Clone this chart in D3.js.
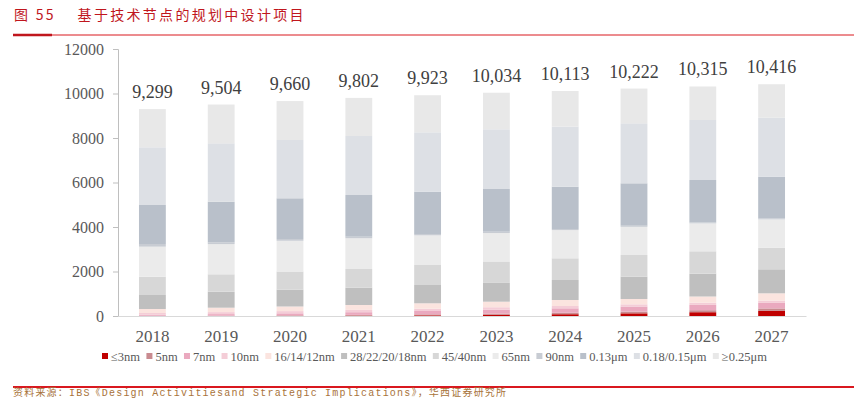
<!DOCTYPE html>
<html lang="zh">
<head>
<meta charset="UTF-8">
<title>基于技术节点的规划中设计项目</title>
<script src="https://d3js.org/d3.v7.min.js"></script>
<style>
  body { margin: 0; background: #fff; }
  svg { display: block; }
</style>
</head>
<body>
<div id="chart"></div>
<script>
// categories (x axis)
const years = ["2018", "2019", "2020", "2021", "2022", "2023", "2024", "2025", "2026", "2027"];

// technology nodes, bottom to top of each stack
const nodes = ["≤3nm", "5nm", "7nm", "10nm", "16/14/12nm", "28/22/20/18nm", "45/40nm",
               "65nm", "90nm", "0.13μm", "0.18/0.15μm", "≥0.25μm"];
const nodeColors = ["#c00000", "#c98b90", "#eaa9bf", "#f4cdd7", "#fbe4df", "#bfbfbf", "#d7d7d7",
                    "#ebebeb", "#c8ccd3", "#b9c0ca", "#dde0e5", "#e8e8e8"];

// design starts per node (one value per year)
const le3nm     = [0, 0, 5, 15, 30, 50, 80, 120, 170, 230];
const n5nm      = [10, 15, 25, 35, 45, 55, 65, 75, 90, 110];
const n7nm      = [45, 70, 90, 120, 150, 180, 200, 230, 240, 250];
const n10nm     = [80, 90, 100, 104, 106, 108, 104, 100, 96, 100];
const n16nm     = [180, 198, 207, 220, 240, 250, 270, 239, 280, 330];
const n28nm     = [629, 719, 755, 778, 822, 863, 899, 1002, 1025, 1079];
const n45nm     = [822, 782, 818, 840, 899, 944, 975, 976, 1007, 971];
const n65nm     = [1350, 1358, 1381, 1382, 1333, 1279, 1267, 1266, 1254, 1272];
const n90nm     = [120, 80, 80, 70, 60, 60, 50, 50, 40, 40];
const u013      = [1753, 1825, 1829, 1874, 1902, 1919, 1901, 1906, 1910, 1879];
const u018      = [2593, 2625, 2620, 2652, 2669, 2683, 2697, 2697, 2697, 2651];
const ge025     = [1717, 1742, 1750, 1712, 1667, 1643, 1605, 1561, 1506, 1504];

const seriesValues = [le3nm, n5nm, n7nm, n10nm, n16nm, n28nm, n45nm, n65nm, n90nm, u013, u018, ge025];
const yTicks = [0, 2000, 4000, 6000, 8000, 10000, 12000];

const W = 854, H = 398;
const svg = d3.select("#chart").append("svg")
    .attr("width", W).attr("height", H);

// title + red rules
svg.append("text")
    .attr("x", 14).attr("y", 20)
    .attr("fill", "#c0161d")
    .style("font-family", "'Noto Sans CJK SC', sans-serif")
    .style("font-size", "14px")
    .style("letter-spacing", "2.3px")
    .text("图 55\u3000 基于技术节点的规划中设计项目");

svg.append("line").attr("x1", 13).attr("x2", W).attr("y1", 35).attr("y2", 35)
    .attr("stroke", "#d9181f").attr("stroke-width", 1);
svg.append("line").attr("x1", 13).attr("x2", 52).attr("y1", 35).attr("y2", 35)
    .attr("stroke", "#c0161d").attr("stroke-width", 2.5);

// build stacked table
const table = years.map((yr, i) => {
    const row = { year: yr };
    nodes.forEach((n, k) => row[n] = seriesValues[k][i]);
    return row;
});
const stacked = d3.stack().keys(nodes)(table);

const x = d3.scaleBand().domain(years).range([118, 806]).paddingInner(0.61).paddingOuter(0.305);
const y = d3.scaleLinear().domain([0, 12000]).range([316, 49]);

// y axis
const yAxis = svg.append("g")
    .attr("transform", "translate(118,0)")
    .call(d3.axisLeft(y).tickValues(yTicks).tickSize(5).tickPadding(9).tickFormat(d3.format("d")));
yAxis.select(".domain").attr("stroke", "#bfbfbf");
yAxis.selectAll(".tick line").attr("stroke", "#bfbfbf");
yAxis.selectAll("text")
    .attr("fill", "#595959")
    .style("font-family", "'Liberation Serif', serif")
    .style("font-size", "16px");

// bars
svg.append("g").selectAll("g")
    .data(stacked)
    .join("g")
    .attr("fill", (d, k) => nodeColors[k])
    .selectAll("rect")
    .data(d => d)
    .join("rect")
    .attr("x", d => x(d.data.year))
    .attr("width", x.bandwidth())
    .attr("y", d => y(d[1]))
    .attr("height", d => y(d[0]) - y(d[1]));

// x axis
const xAxis = svg.append("g")
    .attr("transform", "translate(0,316)")
    .call(d3.axisBottom(x).tickSize(0).tickPadding(14));
xAxis.select(".domain").attr("stroke", "#d9d9d9");
xAxis.selectAll("text")
    .attr("fill", "#595959")
    .style("font-family", "'Liberation Serif', serif")
    .style("font-size", "17px");

// totals above bars
const fmt = d3.format(",");
svg.append("g").selectAll("text")
    .data(table)
    .join("text")
    .attr("x", d => x(d.year) + x.bandwidth() / 2)
    .attr("y", d => y(d3.sum(nodes, n => d[n])) - 11)
    .attr("text-anchor", "middle")
    .attr("fill", "#404040")
    .style("font-family", "'Liberation Serif', serif")
    .style("font-size", "18px")
    .text(d => fmt(d3.sum(nodes, n => d[n])));

// legend, spread between x=102 and x=767
const legend = svg.append("g");
const items = legend.selectAll("g").data(nodes).join("g");
items.append("rect")
    .attr("width", 6).attr("height", 6).attr("y", -4)
    .attr("fill", (d, k) => nodeColors[k]);
items.append("text")
    .attr("x", 9).attr("y", 0).attr("dy", "0.35em")
    .attr("fill", "#595959")
    .style("font-family", "'Liberation Serif', serif")
    .style("font-size", "12.5px")
    .text(d => d);
const widths = [];
items.each(function () {
    widths.push(9 + d3.select(this).select("text").node().getComputedTextLength());
});
const gap = (665 - d3.sum(widths)) / (nodes.length - 1);
let lx = 0;
items.each(function (d, k) {
    d3.select(this).attr("transform", `translate(${lx},0)`);
    lx += widths[k] + gap;
});
legend.attr("transform", "translate(102,357)");

// source line
svg.append("line").attr("x1", 13).attr("x2", W).attr("y1", 387).attr("y2", 387)
    .attr("stroke", "#d9181f").attr("stroke-width", 2);
svg.append("text")
    .attr("x", 13).attr("y", 395.5)
    .attr("fill", "#a8733a")
    .style("font-family", "'Liberation Mono', 'Noto Sans CJK SC', monospace")
    .style("font-size", "10px")
    .style("letter-spacing", "1.2px")
    .text("资料来源：IBS《Design Activitiesand Strategic Implications》，华西证券研究所");
</script>
</body>
</html>
